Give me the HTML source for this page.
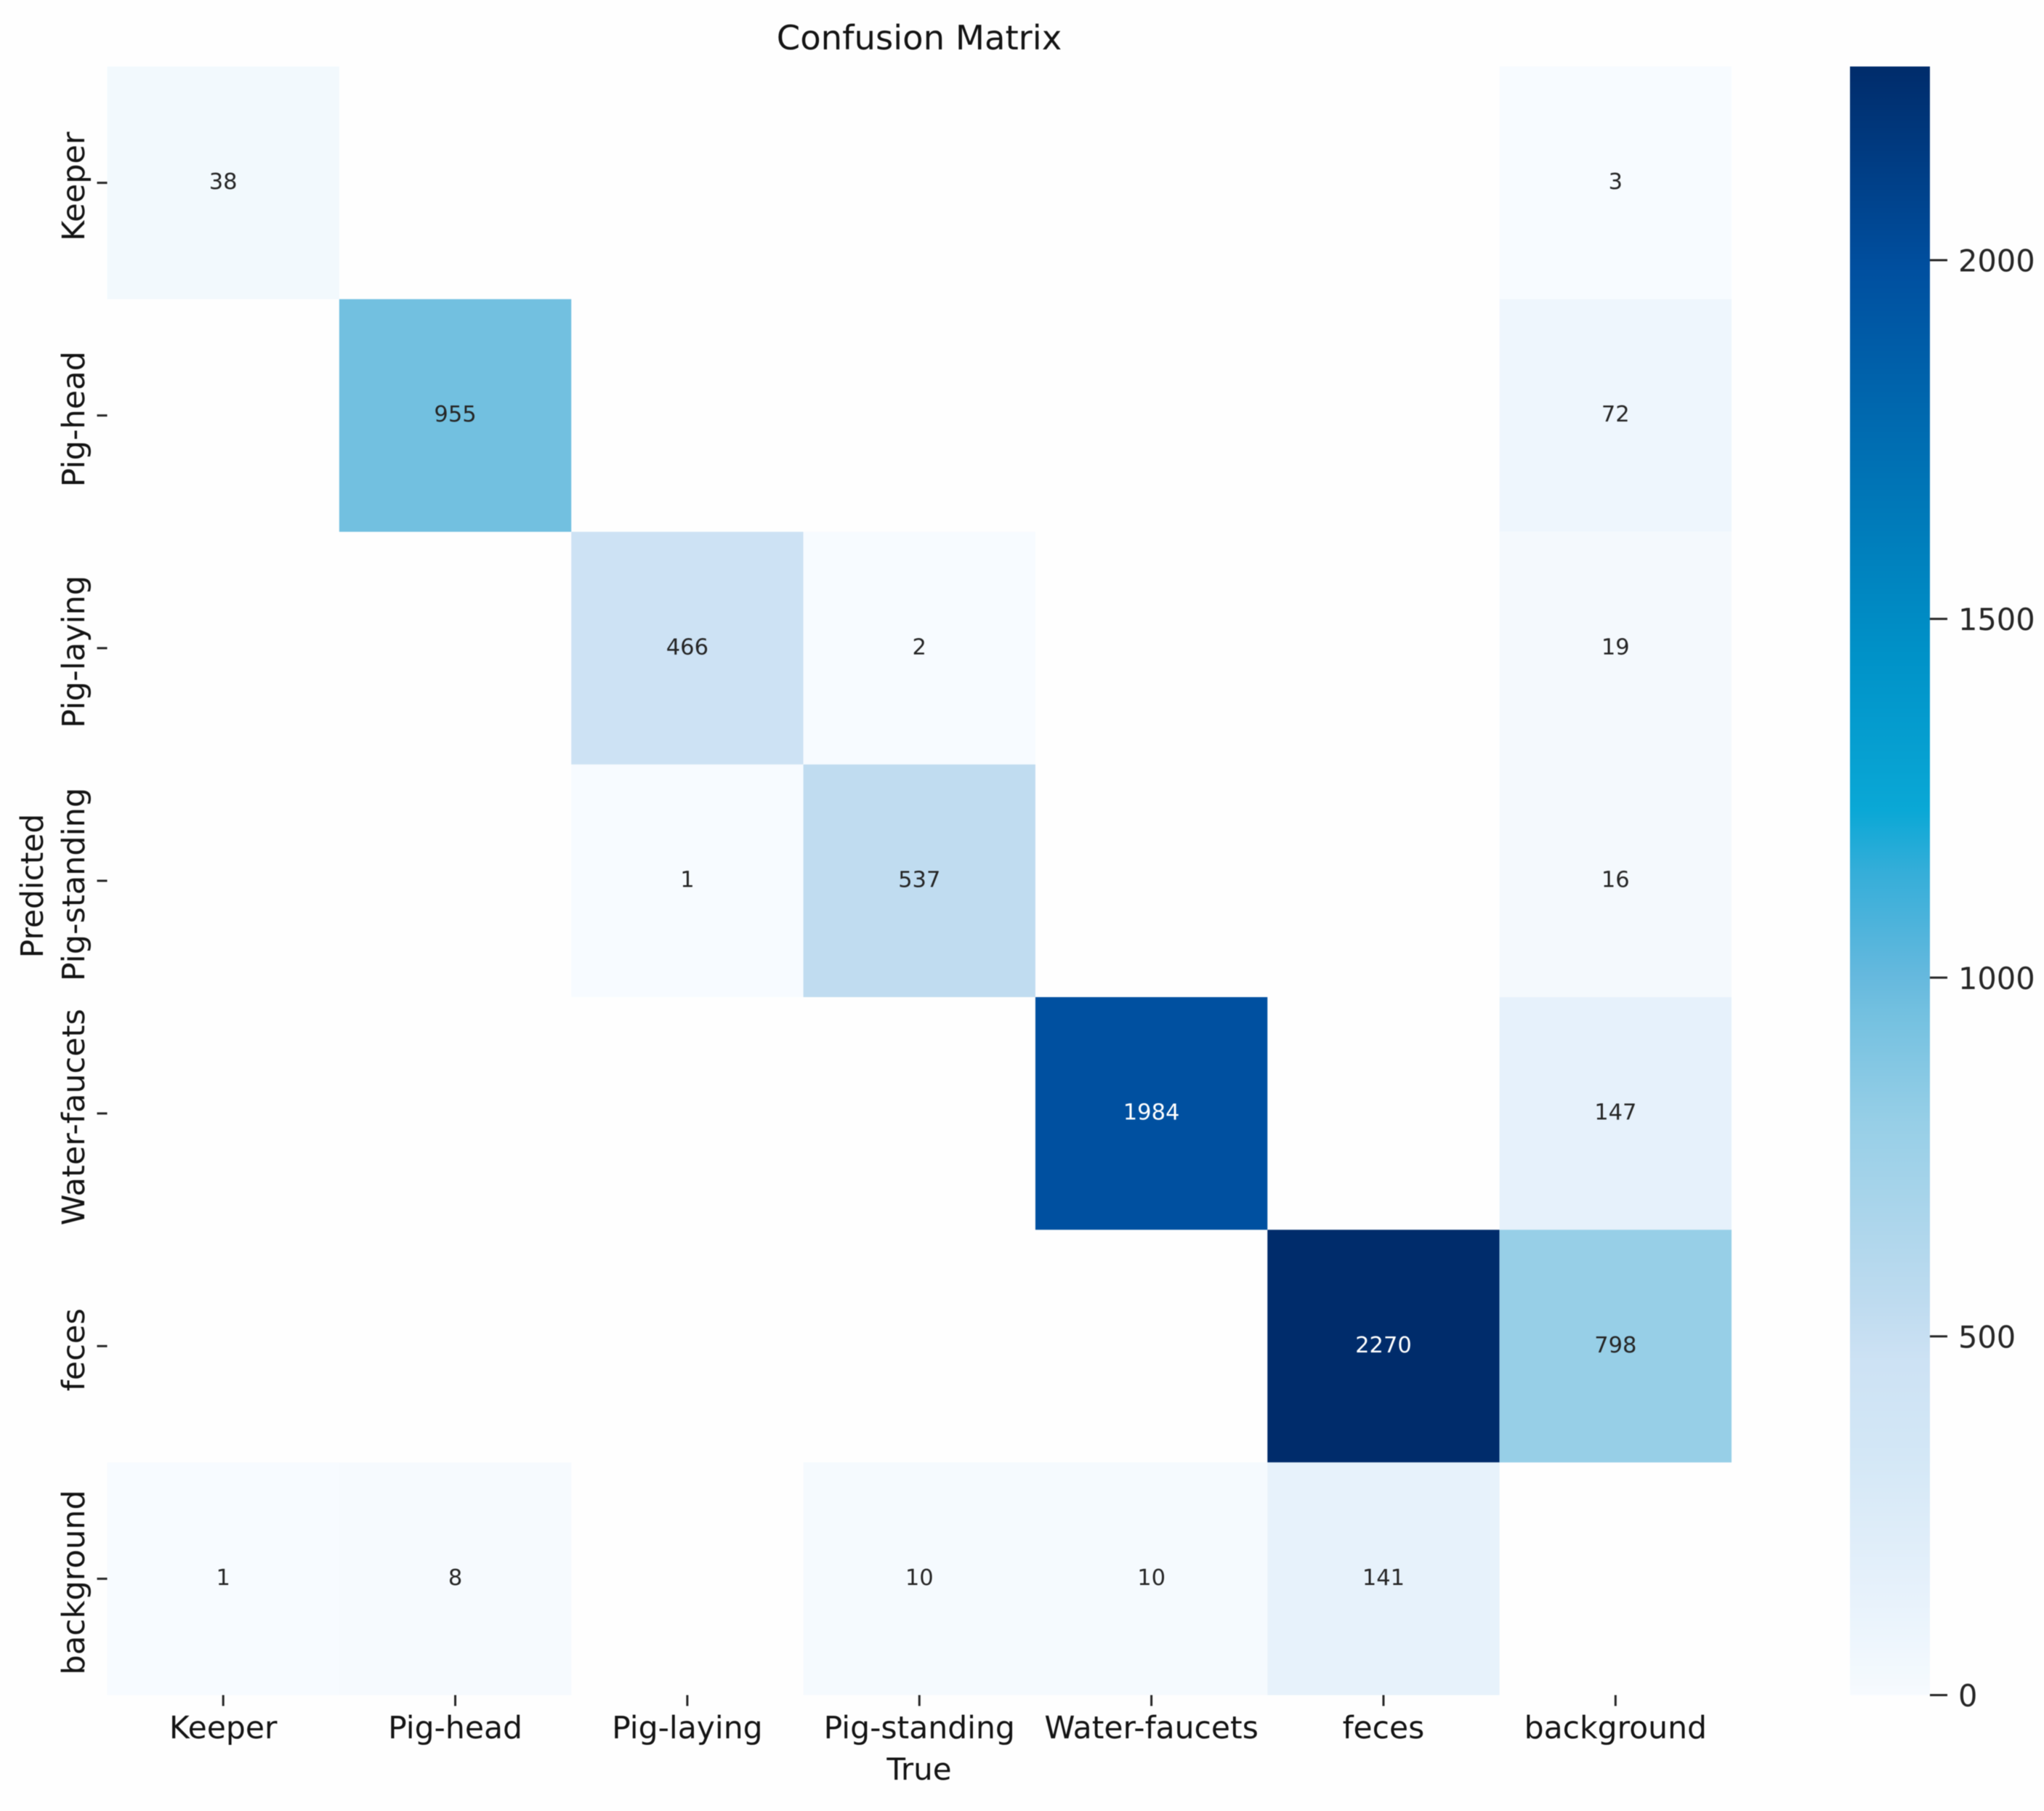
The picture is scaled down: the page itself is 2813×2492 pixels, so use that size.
<!DOCTYPE html>
<html lang="en">
<head>
<meta charset="utf-8">
<title>Confusion Matrix</title>
<style>
html,body{margin:0;padding:0;background:#fefefe;}
svg{display:block;filter:blur(0.6px);}
text{font-family:"DejaVu Sans","Liberation Sans",sans-serif;}
</style>
</head>
<body>
<svg id="chart" xmlns="http://www.w3.org/2000/svg" width="2813" height="2492" viewBox="0 0 2813 2492">
  <rect x="0" y="0" width="2813" height="2492" fill="#fefefe"/>
  <defs>
    <linearGradient id="colorbar-gradient" x1="0" y1="1" x2="0" y2="0"></linearGradient>
  </defs>
  <g id="cells"></g>
  <g id="x-axis"></g>
  <g id="y-axis"></g>
  <g id="colorbar"></g>
  <text x="1265" y="68" font-size="46.5" text-anchor="middle" fill="#141414">Confusion Matrix</text>
  <text x="1265" y="2449" font-size="42" text-anchor="middle" fill="#141414">True</text>
  <text transform="translate(59,1219) rotate(-90)" font-size="42.3" text-anchor="middle" fill="#141414">Predicted</text>
</svg>
<script>
const predictedLabels = ["Keeper", "Pig-head", "Pig-laying", "Pig-standing", "Water-faucets", "feces", "background"];
const trueLabels = ["Keeper", "Pig-head", "Pig-laying", "Pig-standing", "Water-faucets", "feces", "background"];
const rowKeeper = [38, null, null, null, null, null, 3];
const rowPigHead = [null, 955, null, null, null, null, 72];
const rowPigLaying = [null, null, 466, 2, null, null, 19];
const rowPigStanding = [null, null, 1, 537, null, null, 16];
const rowWaterFaucets = [null, null, null, null, 1984, null, 147];
const rowFeces = [null, null, null, null, null, 2270, 798];
const rowBackground = [1, 8, null, 10, 10, 141, null];
const matrixRows = [rowKeeper, rowPigHead, rowPigLaying, rowPigStanding, rowWaterFaucets, rowFeces, rowBackground];
const colorbarTicks = [0, 500, 1000, 1500, 2000];
const colorDomainMax = 2270;
const colorStopValues = [0, 19, 38, 72, 150, 340, 466, 537, 798, 955, 1000, 1147, 1234, 1451, 1984, 2270];
const colorStopHexes = ["#f7fbff", "#f4f9fd", "#f2f9fd", "#eef6fd", "#e6f1fb", "#d3e7f6", "#cde2f4", "#c0dcf0", "#97cfe7", "#72c0e0", "#66b9de", "#35aed9", "#0aa8d6", "#0092c8", "#0050a0", "#002c6b"];

const SVG_NS = "http://www.w3.org/2000/svg";
const plotLeft = 147.5, plotRight = 2383, plotTop = 91.5, plotBottom = 2332.5;
const barLeft = 2546, barRight = 2656;

function xScale(i) { return plotLeft + (plotRight - plotLeft) * i / trueLabels.length; }
function yScale(i) { return plotTop + (plotBottom - plotTop) * i / predictedLabels.length; }
function barScale(v) { return plotBottom - (plotBottom - plotTop) * v / colorDomainMax; }
function hexToRgb(h) { return [1, 3, 5].map(function (p) { return parseInt(h.substr(p, 2), 16); }); }
function colorFor(v) {
  let k = 0;
  while (k < colorStopValues.length - 2 && v > colorStopValues[k + 1]) k++;
  const t = Math.min(1, Math.max(0, (v - colorStopValues[k]) / (colorStopValues[k + 1] - colorStopValues[k])));
  const a = hexToRgb(colorStopHexes[k]), b = hexToRgb(colorStopHexes[k + 1]);
  return "rgb(" + a.map(function (c, n) { return Math.round(c + (b[n] - c) * t); }).join(",") + ")";
}
function make(tag, attrs, parent, content) {
  const el = document.createElementNS(SVG_NS, tag);
  Object.keys(attrs).forEach(function (k) { el.setAttribute(k, attrs[k]); });
  if (content !== undefined) el.textContent = content;
  parent.appendChild(el);
  return el;
}
function slug(s) { return s.toLowerCase().replace(/[^a-z0-9]+/g, "-"); }

const cellsGroup = document.getElementById("cells");
matrixRows.forEach(function (row, r) {
  row.forEach(function (value, c) {
    if (value === null) return;
    const cell = make("rect", {
      x: xScale(c), y: yScale(r),
      width: xScale(c + 1) - xScale(c), height: yScale(r + 1) - yScale(r),
      fill: colorFor(value)
    }, cellsGroup);
    
    
    const label = make("text", {
      x: (xScale(c) + xScale(c + 1)) / 2,
      y: (yScale(r) + yScale(r + 1)) / 2 + 8.5,
      "font-size": 30.5, "text-anchor": "middle",
      fill: value > 1400 ? "#ffffff" : "#262626"
    }, cellsGroup, String(value));
    
    
  });
});

const xAxis = document.getElementById("x-axis");
trueLabels.forEach(function (name, i) {
  const cx = (xScale(i) + xScale(i + 1)) / 2;
  const tick = make("line", { x1: cx, x2: cx, y1: plotBottom, y2: plotBottom + 15, stroke: "#262626", "stroke-width": 3 }, xAxis);
  
  
  const label = make("text", { x: cx, y: 2392, "font-size": 42.5, "text-anchor": "middle", fill: "#141414" }, xAxis, name);
  
  
});

const yAxis = document.getElementById("y-axis");
predictedLabels.forEach(function (name, i) {
  const cy = (yScale(i) + yScale(i + 1)) / 2;
  const tick = make("line", { x1: plotLeft - 14, x2: plotLeft, y1: cy, y2: cy, stroke: "#262626", "stroke-width": 3 }, yAxis);
  
  
  const label = make("text", { transform: "translate(116," + (cy + 5) + ") rotate(-90)", "font-size": 43, "text-anchor": "middle", fill: "#141414" }, yAxis, name);
  
  
});

const gradient = document.getElementById("colorbar-gradient");
colorStopValues.forEach(function (v, i) {
  make("stop", { offset: v / colorDomainMax, "stop-color": colorStopHexes[i] }, gradient);
});
const colorbar = document.getElementById("colorbar");
const barRect = make("rect", {
  x: barLeft, y: barScale(colorDomainMax),
  width: barRight - barLeft, height: barScale(0) - barScale(colorDomainMax),
  fill: "url(#colorbar-gradient)"
}, colorbar);


colorbarTicks.forEach(function (v) {
  const y = barScale(v);
  const tick = make("line", { x1: barRight, x2: barRight + 24, y1: y, y2: y, stroke: "#262626", "stroke-width": 3 }, colorbar);
  
  
  const label = make("text", { x: 2695, y: y + 15.5, "font-size": 41.5, fill: "#262626" }, colorbar, String(v));
  
  
});
</script>
</body>
</html>
